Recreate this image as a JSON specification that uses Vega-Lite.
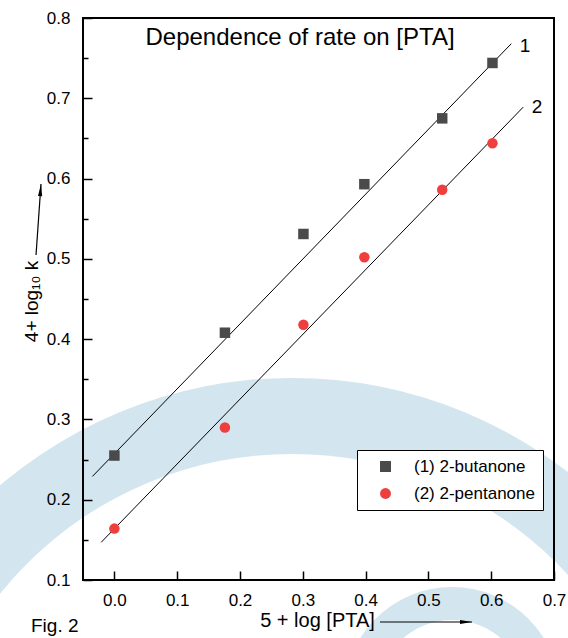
{
  "$schema": "https://vega.github.io/schema/vega-lite/v6.json",
  "width": 471,
  "height": 562,
  "autosize": {"type": "none"},
  "padding": {"left": 83, "top": 18, "right": 14, "bottom": 58},
  "background": "white",
  "config": {"view": {"stroke": null}, "font": "Liberation Sans"},
  "datasets": {
    "one": [{"k": 1}],
    "pts": [
      {"x": 0.0, "y": 0.255, "s": "(1) 2-butanone"},
      {"x": 0.176, "y": 0.408, "s": "(1) 2-butanone"},
      {"x": 0.301, "y": 0.531, "s": "(1) 2-butanone"},
      {"x": 0.398, "y": 0.593, "s": "(1) 2-butanone"},
      {"x": 0.522, "y": 0.675, "s": "(1) 2-butanone"},
      {"x": 0.602, "y": 0.744, "s": "(1) 2-butanone"},
      {"x": 0.0, "y": 0.164, "s": "(2) 2-pentanone"},
      {"x": 0.176, "y": 0.29, "s": "(2) 2-pentanone"},
      {"x": 0.301, "y": 0.418, "s": "(2) 2-pentanone"},
      {"x": 0.398, "y": 0.502, "s": "(2) 2-pentanone"},
      {"x": 0.522, "y": 0.586, "s": "(2) 2-pentanone"},
      {"x": 0.602, "y": 0.644, "s": "(2) 2-pentanone"}
    ],
    "fits": [
      {"x": -0.035, "y": 0.229, "x2": 0.632, "y2": 0.768},
      {"x": -0.021, "y": 0.147, "x2": 0.651, "y2": 0.689}
    ],
    "fitlabels": [
      {"x": 0.654, "y": 0.765, "t": "1"},
      {"x": 0.673, "y": 0.689, "t": "2"}
    ],
    "arrows": [
      {"x": 0.423, "y": 0.0477, "x2": 0.5694, "y2": 0.0477},
      {"x": -0.1248, "y": 0.5048, "x2": -0.1169, "y2": 0.5932}
    ]
  },
  "layer": [
    {
      "data": {"name": "one"},
      "mark": {"type": "arc", "radius": 451, "radius2": 375, "theta": 0, "theta2": 6.2832, "color": "#d3e6f0"},
      "encoding": {
        "x": {
          "datum": 0.283, "type": "quantitative",
          "scale": {"domain": [-0.05, 0.7], "nice": false, "zero": false},
          "axis": {
            "values": [0, 0.05, 0.1, 0.15, 0.2, 0.25, 0.3, 0.35, 0.4, 0.45, 0.5, 0.55, 0.6, 0.65, 0.7],
            "labelExpr": "round(datum.value*20) % 2 == 0 ? format(datum.value, '.1f') : ''",
            "tickSize": {"condition": {"test": "round(datum.value*20) % 2 == 0", "value": -9}, "value": -4},
            "tickWidth": 1.5, "tickColor": "black",
            "domain": false, "grid": false,
            "labelFontSize": 17, "labelColor": "black", "labelPadding": 21,
            "labelFlush": false, "labelOverlap": false,
            "title": "5 + log [PTA]", "titleFontSize": 20, "titleFontWeight": "normal", "titleColor": "black",
            "titleX": 234, "titleY": 40, "titleBaseline": "middle", "titleAlign": "center",
            "zindex": 1
          }
        },
        "y": {
          "datum": -0.21, "type": "quantitative",
          "scale": {"domain": [0.1, 0.8], "nice": false, "zero": false},
          "axis": {
            "values": [0.1, 0.15, 0.2, 0.25, 0.3, 0.35, 0.4, 0.45, 0.5, 0.55, 0.6, 0.65, 0.7, 0.75, 0.8],
            "labelExpr": "round(datum.value*20) % 2 == 0 ? format(datum.value, '.1f') : ''",
            "tickSize": {"condition": {"test": "round(datum.value*20) % 2 == 0", "value": -9}, "value": -5},
            "tickWidth": 1.5, "tickColor": "black",
            "domain": false, "grid": false,
            "labelFontSize": 17, "labelColor": "black", "labelPadding": 22,
            "labelFlush": false, "labelOverlap": false,
            "title": "4+ log₁₀ k", "titleFontSize": 19, "titleFontWeight": "normal", "titleColor": "black",
            "titleX": -52, "titleY": 283, "titleBaseline": "middle", "titleAlign": "center", "titleAngle": -90,
            "zindex": 1
          }
        }
      }
    },
    {
      "data": {"name": "one"},
      "mark": {"type": "arc", "radius": 108, "radius2": 75, "theta": 0, "theta2": 6.2832, "color": "#d3e6f0"},
      "encoding": {
        "x": {"datum": 0.5376, "type": "quantitative"},
        "y": {"datum": -0.0433, "type": "quantitative"}
      }
    },
    {
      "data": {"name": "one"},
      "mark": {"type": "rect", "filled": false, "color": "black", "strokeWidth": 2},
      "encoding": {
        "x": {"datum": -0.05, "type": "quantitative"},
        "x2": {"datum": 0.7},
        "y": {"datum": 0.1, "type": "quantitative"},
        "y2": {"datum": 0.8}
      }
    },
    {
      "data": {"name": "fits"},
      "mark": {"type": "rule", "color": "black", "strokeWidth": 1},
      "encoding": {
        "x": {"field": "x", "type": "quantitative"},
        "y": {"field": "y", "type": "quantitative"},
        "x2": {"field": "x2"},
        "y2": {"field": "y2"}
      }
    },
    {
      "data": {"name": "pts"},
      "mark": {"type": "point", "filled": true, "size": 110, "opacity": 1, "strokeWidth": 0},
      "encoding": {
        "x": {"field": "x", "type": "quantitative"},
        "y": {"field": "y", "type": "quantitative"},
        "color": {
          "field": "s", "type": "nominal",
          "scale": {"domain": ["(1) 2-butanone", "(2) 2-pentanone"], "range": ["#4a4a4a", "#ef3e3e"]},
          "legend": {
            "title": null, "orient": "none", "legendX": 274, "legendY": 432,
            "fillColor": "white", "strokeColor": "black", "padding": 8,
            "labelFontSize": 17, "labelColor": "black", "symbolSize": 120, "symbolStrokeWidth": 0,
            "symbolOffset": 12, "labelOffset": 20, "rowPadding": 9
          }
        },
        "shape": {
          "field": "s", "type": "nominal",
          "scale": {"domain": ["(1) 2-butanone", "(2) 2-pentanone"], "range": ["square", "circle"]}
        }
      }
    },
    {
      "data": {"name": "fitlabels"},
      "mark": {"type": "text", "fontSize": 19, "color": "black", "align": "center", "baseline": "middle"},
      "encoding": {
        "x": {"field": "x", "type": "quantitative"},
        "y": {"field": "y", "type": "quantitative"},
        "text": {"field": "t"}
      }
    },
    {
      "data": {"name": "one"},
      "mark": {"type": "text", "fontSize": 24, "color": "black", "align": "center", "baseline": "middle"},
      "encoding": {
        "x": {"datum": 0.2956, "type": "quantitative"},
        "y": {"datum": 0.7745, "type": "quantitative"},
        "text": {"value": "Dependence of rate on [PTA]"}
      }
    },
    {
      "data": {"name": "one"},
      "mark": {"type": "text", "fontSize": 19, "color": "black", "align": "left", "baseline": "middle"},
      "encoding": {
        "x": {"datum": -0.1328, "type": "quantitative"},
        "y": {"datum": 0.0427, "type": "quantitative"},
        "text": {"value": "Fig. 2"}
      }
    },
    {
      "data": {"name": "arrows"},
      "mark": {"type": "rule", "color": "black", "strokeWidth": 1.2},
      "encoding": {
        "x": {"field": "x", "type": "quantitative"},
        "y": {"field": "y", "type": "quantitative"},
        "x2": {"field": "x2"},
        "y2": {"field": "y2"}
      }
    },
    {
      "data": {"name": "one"},
      "mark": {"type": "point", "filled": true, "color": "black", "opacity": 1, "size": 144, "shape": "M1,0L-1,-0.35L-1,0.35Z", "strokeWidth": 0},
      "encoding": {
        "x": {"datum": 0.5599, "type": "quantitative"},
        "y": {"datum": 0.0477, "type": "quantitative"}
      }
    },
    {
      "data": {"name": "one"},
      "mark": {"type": "point", "filled": true, "color": "black", "opacity": 1, "size": 144, "shape": "M0,-1L-0.35,1L0.35,1Z", "angle": 4, "strokeWidth": 0},
      "encoding": {
        "x": {"datum": -0.1176, "type": "quantitative"},
        "y": {"datum": 0.5857, "type": "quantitative"}
      }
    }
  ]
}
